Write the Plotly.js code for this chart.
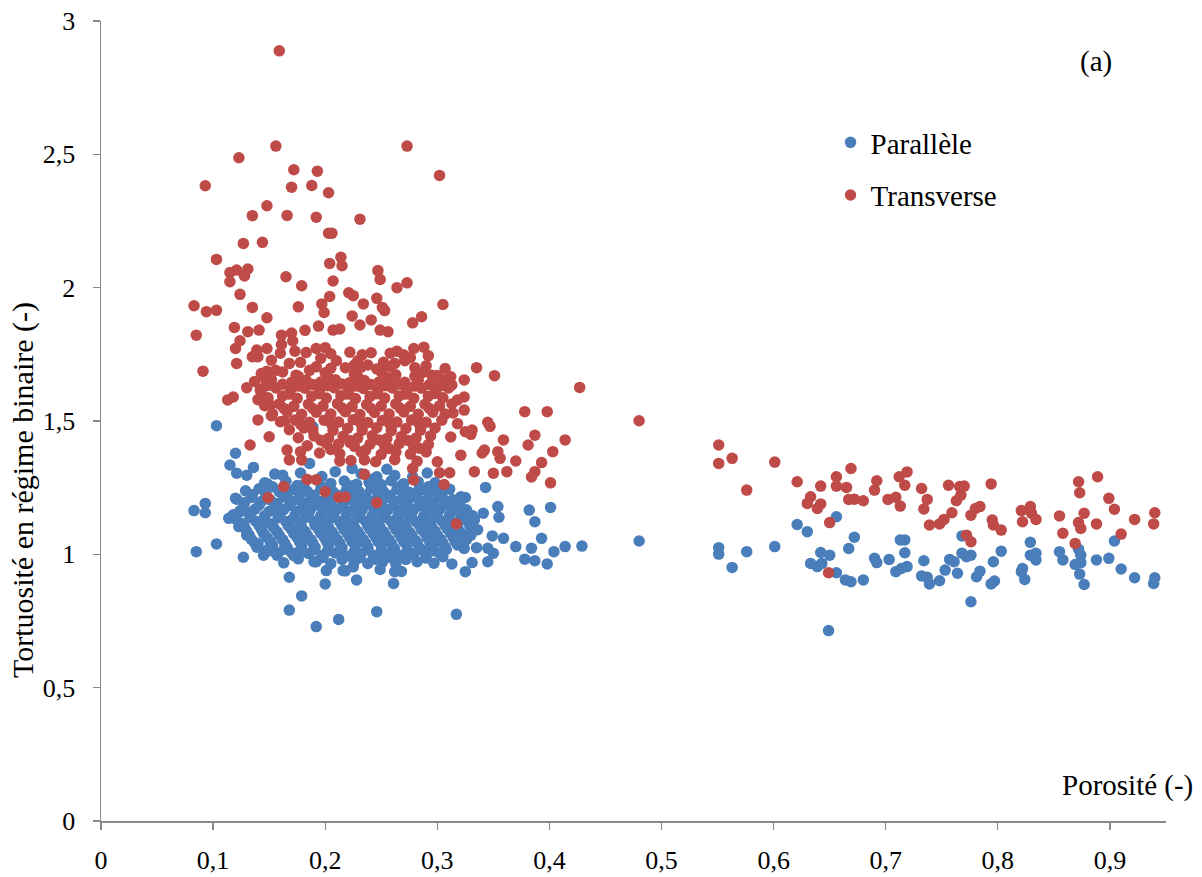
<!DOCTYPE html>
<html>
<head>
<meta charset="utf-8">
<script src="https://cdn.plot.ly/plotly-3.0.1.min.js"></script>
<style>html,body{margin:0;padding:0;background:#fff;}#chart{width:1202px;height:877px;}</style>
</head>
<body>
<div id="chart"></div>
<script>
// ---------- DATA (porosity, tortuosity) ----------
const seriesNames = ["Parallèle", "Transverse"];
const xTickVals = [0, 0.1, 0.2, 0.3, 0.4, 0.5, 0.6, 0.7, 0.8, 0.9];
const yTickVals = [0, 0.5, 1, 1.5, 2, 2.5, 3];

// Parallèle – scattered points around the main cloud
const parOutliers = [
[0.103,1.482],[0.120,1.379],[0.115,1.335],[0.121,1.304],[0.130,1.297],[0.136,1.326],[0.155,1.301],
[0.083,1.164],[0.093,1.191],[0.093,1.156],[0.085,1.010],[0.103,1.039],[0.120,1.210],[0.114,1.135],
[0.124,1.160],[0.123,1.104],[0.130,1.072],[0.127,0.989],[0.140,1.041],[0.148,1.016],[0.157,0.997],
[0.168,0.914],[0.179,0.844],[0.168,0.791],[0.192,0.729],[0.212,0.756],[0.200,0.889],[0.201,0.939],
[0.216,0.939],[0.228,0.904],[0.246,0.785],[0.170,1.006],[0.192,0.972],[0.243,0.991],[0.225,0.953],
[0.148,1.266],[0.186,1.341],[0.224,1.322],[0.244,1.285],[0.203,1.501],[0.189,1.478],
[0.343,1.251],[0.354,1.179],[0.355,1.139],[0.341,1.154],[0.333,1.129],[0.382,1.166],[0.387,1.122],
[0.384,1.023],[0.378,0.982],[0.387,0.976],[0.370,1.029],[0.349,1.069],[0.359,1.060],[0.345,1.023],
[0.350,1.004],[0.345,0.972],[0.335,1.025],[0.331,0.969],[0.325,0.935],[0.324,1.022],[0.330,1.072],
[0.321,1.216],[0.320,1.179],[0.313,0.964],[0.305,0.991],[0.317,0.775],[0.261,0.891],[0.262,0.935],
[0.272,0.985],[0.287,1.016],[0.305,1.256],[0.284,1.247],[0.255,1.319],[0.246,1.291],[0.278,1.291]
];
// Parallèle – dense cloud (porosity 0.12–0.34)
const parCloud = [
[0.162,1.297],[0.178,1.305],[0.197,1.292],[0.209,1.310],[0.232,1.302],[0.262,1.296],[0.291,1.305],
[0.146,1.268],[0.165,1.274],[0.181,1.262],[0.193,1.278],[0.205,1.266],[0.217,1.275],[0.228,1.263],[0.239,1.271],[0.250,1.262],[0.259,1.276],[0.270,1.265],[0.283,1.272],[0.298,1.268],
[0.153,1.253],[0.175,1.258],[0.199,1.251],[0.222,1.257],[0.245,1.252],[0.268,1.258],[0.292,1.253],
[0.129,1.238],[0.141,1.246],[0.159,1.235],[0.172,1.243],[0.184,1.236],[0.196,1.245],[0.207,1.234],[0.219,1.242],[0.230,1.236],[0.241,1.247],[0.252,1.235],[0.264,1.244],[0.275,1.233],[0.287,1.241],[0.298,1.236],[0.311,1.244],
[0.135,1.223],[0.147,1.228],[0.166,1.221],[0.178,1.227],[0.190,1.222],[0.202,1.229],[0.213,1.221],[0.225,1.227],[0.236,1.222],[0.247,1.228],[0.258,1.221],[0.270,1.227],[0.281,1.223],[0.293,1.229],[0.304,1.222],
[0.121,1.207],[0.134,1.213],[0.151,1.204],[0.163,1.215],[0.176,1.206],[0.188,1.212],[0.199,1.203],[0.210,1.214],[0.222,1.205],[0.233,1.212],[0.245,1.204],[0.256,1.213],[0.268,1.206],[0.279,1.215],[0.291,1.203],[0.302,1.211],[0.314,1.205],[0.325,1.213],
[0.128,1.193],[0.143,1.198],[0.157,1.191],[0.170,1.197],[0.182,1.192],[0.194,1.199],[0.205,1.191],[0.216,1.197],[0.228,1.192],[0.239,1.198],[0.250,1.191],[0.262,1.197],[0.273,1.193],[0.285,1.199],[0.296,1.192],[0.309,1.198],[0.320,1.193],
[0.127,1.176],[0.141,1.184],[0.155,1.175],[0.168,1.183],[0.180,1.177],[0.192,1.185],[0.203,1.174],[0.215,1.182],[0.227,1.176],[0.238,1.186],[0.249,1.175],[0.261,1.183],[0.272,1.174],[0.284,1.182],[0.295,1.177],[0.307,1.185],[0.318,1.176],
[0.124,1.163],[0.137,1.168],[0.150,1.161],[0.163,1.167],[0.175,1.162],[0.187,1.169],[0.198,1.161],[0.210,1.167],[0.221,1.162],[0.233,1.168],[0.244,1.161],[0.256,1.167],[0.267,1.163],[0.279,1.169],[0.290,1.162],[0.302,1.168],[0.313,1.163],[0.326,1.167],
[0.118,1.148],[0.132,1.153],[0.146,1.145],[0.160,1.154],[0.173,1.146],[0.185,1.152],[0.196,1.144],[0.208,1.155],[0.219,1.147],[0.231,1.153],[0.242,1.145],[0.254,1.156],[0.265,1.146],[0.277,1.152],[0.288,1.144],[0.300,1.154],[0.311,1.147],[0.322,1.153],[0.331,1.146],
[0.120,1.133],[0.133,1.138],[0.145,1.131],[0.158,1.137],[0.171,1.132],[0.183,1.139],[0.195,1.131],[0.206,1.137],[0.218,1.132],[0.229,1.138],[0.241,1.131],[0.252,1.137],[0.264,1.133],[0.275,1.139],[0.287,1.132],[0.298,1.138],[0.310,1.133],[0.321,1.137],[0.333,1.132],
[0.125,1.117],[0.138,1.124],[0.151,1.115],[0.165,1.123],[0.178,1.116],[0.190,1.125],[0.201,1.114],[0.213,1.122],[0.224,1.116],[0.236,1.124],[0.247,1.115],[0.259,1.123],[0.270,1.114],[0.281,1.122],[0.293,1.117],[0.304,1.125],[0.316,1.115],[0.327,1.123],
[0.128,1.103],[0.141,1.108],[0.154,1.101],[0.167,1.107],[0.179,1.102],[0.191,1.109],[0.203,1.101],[0.215,1.107],[0.226,1.102],[0.238,1.108],[0.249,1.101],[0.261,1.107],[0.272,1.103],[0.284,1.109],[0.295,1.102],[0.307,1.108],[0.318,1.103],[0.329,1.107],
[0.130,1.087],[0.143,1.094],[0.157,1.085],[0.170,1.093],[0.182,1.086],[0.194,1.095],[0.206,1.084],[0.217,1.092],[0.229,1.086],[0.240,1.094],[0.252,1.085],[0.263,1.093],[0.275,1.084],[0.286,1.092],[0.298,1.087],[0.309,1.095],[0.320,1.085],[0.336,1.092],
[0.132,1.073],[0.145,1.078],[0.159,1.071],[0.172,1.077],[0.184,1.072],[0.196,1.079],[0.208,1.071],[0.220,1.077],[0.231,1.072],[0.243,1.078],[0.254,1.071],[0.266,1.077],[0.277,1.073],[0.289,1.079],[0.300,1.072],[0.312,1.078],[0.323,1.073],
[0.134,1.057],[0.148,1.064],[0.162,1.055],[0.175,1.063],[0.187,1.056],[0.199,1.065],[0.211,1.054],[0.222,1.062],[0.234,1.056],[0.245,1.064],[0.257,1.055],[0.268,1.063],[0.280,1.054],[0.291,1.062],[0.303,1.057],[0.314,1.065],[0.326,1.055],
[0.137,1.043],[0.151,1.048],[0.164,1.041],[0.177,1.047],[0.189,1.042],[0.201,1.049],[0.213,1.041],[0.224,1.047],[0.236,1.042],[0.247,1.048],[0.259,1.041],[0.270,1.047],[0.282,1.043],[0.293,1.049],[0.305,1.042],[0.316,1.048],
[0.139,1.027],[0.153,1.034],[0.166,1.025],[0.179,1.033],[0.191,1.026],[0.203,1.035],[0.215,1.024],[0.227,1.032],[0.238,1.026],[0.250,1.034],[0.261,1.025],[0.273,1.033],[0.284,1.024],[0.296,1.032],[0.307,1.027],[0.318,1.035],
[0.150,1.013],[0.163,1.018],[0.177,1.011],[0.190,1.017],[0.202,1.012],[0.214,1.019],[0.226,1.011],[0.238,1.017],[0.250,1.012],[0.262,1.018],[0.273,1.011],[0.285,1.017],[0.296,1.013],[0.308,1.018],
[0.145,0.997],[0.158,1.004],[0.172,0.995],[0.185,1.003],[0.197,0.996],[0.209,1.005],[0.221,0.994],[0.232,1.002],[0.244,0.996],[0.256,1.004],[0.267,0.995],[0.279,1.003],[0.290,0.997],[0.302,1.004],
[0.176,0.983],[0.198,0.988],[0.215,0.981],[0.231,0.987],[0.245,0.982],[0.258,0.988],[0.272,0.981],[0.290,0.986],
[0.163,0.968],[0.190,0.972],[0.205,0.965],[0.226,0.973],[0.238,0.966],[0.251,0.971],[0.263,0.964],[0.282,0.972],[0.297,0.967],
[0.218,0.938],[0.249,0.943],[0.268,0.936]
];
// Parallèle – porosity above 0.39
const parHigh = [
[0.401,1.176],[0.393,1.060],[0.398,0.964],[0.404,1.010],[0.414,1.029],[0.429,1.031],[0.480,1.050],
[0.551,1.025],[0.551,1.001],[0.563,0.951],[0.576,1.010],[0.601,1.029],[0.621,1.112],[0.630,1.085],
[0.633,0.966],[0.639,0.954],[0.642,1.007],[0.643,0.966],[0.650,0.997],[0.656,1.141],[0.656,0.931],
[0.649,0.714],[0.664,0.904],[0.669,0.897],[0.667,1.022],[0.672,1.064],[0.680,0.904],[0.690,0.985],
[0.692,0.969],[0.703,0.981],[0.709,0.935],[0.714,0.947],[0.719,0.954],[0.713,1.054],[0.717,1.054],
[0.717,1.006],[0.734,0.976],[0.732,0.919],[0.737,0.914],[0.739,0.889],[0.748,0.901],[0.753,0.941],
[0.757,0.981],[0.761,0.972],[0.764,0.929],[0.768,1.004],[0.772,0.991],[0.776,0.997],[0.768,1.069],
[0.776,0.822],[0.781,0.916],[0.784,0.937],[0.794,0.889],[0.797,0.900],[0.796,0.972],[0.803,1.012],
[0.821,0.935],[0.824,0.906],[0.822,0.947],[0.829,1.045],[0.829,0.997],[0.834,1.004],[0.834,0.979],
[0.855,1.010],[0.858,0.979],[0.872,1.019],[0.874,0.997],[0.869,0.962],[0.874,0.969],[0.873,0.926],
[0.877,0.887],[0.888,0.979],[0.899,0.985],[0.904,1.050],[0.910,0.945],[0.922,0.912],[0.940,0.912],
[0.939,0.891]
];

// Transverse – scattered points above the main cloud
const trOutliers = [
[0.159,2.888],[0.156,2.531],[0.273,2.531],[0.123,2.487],[0.302,2.421],[0.172,2.442],[0.193,2.437],
[0.093,2.382],[0.170,2.377],[0.188,2.383],[0.203,2.356],[0.148,2.307],[0.135,2.270],[0.166,2.271],
[0.192,2.264],[0.231,2.257],[0.203,2.204],[0.206,2.204],[0.127,2.166],[0.144,2.170],[0.103,2.106],
[0.214,2.114],[0.204,2.091],[0.215,2.082],[0.115,2.057],[0.121,2.066],[0.131,2.070],[0.128,2.044],
[0.115,2.022],[0.165,2.041],[0.207,2.025],[0.247,2.064],[0.249,2.031],[0.179,2.007],[0.264,2.000],
[0.273,2.018],[0.124,1.975],[0.204,1.967],[0.221,1.981],[0.225,1.970],[0.246,1.960],[0.083,1.932],
[0.094,1.910],[0.103,1.915],[0.135,1.926],[0.176,1.928],[0.197,1.939],[0.199,1.907],[0.234,1.939],
[0.251,1.926],[0.253,1.914],[0.224,1.894],[0.241,1.879],[0.305,1.937],[0.148,1.887],[0.085,1.822],
[0.119,1.851],[0.131,1.835],[0.141,1.841],[0.182,1.840],[0.194,1.856],[0.207,1.841],[0.213,1.845],
[0.231,1.860],[0.249,1.841],[0.256,1.835],[0.278,1.868],[0.286,1.891],[0.124,1.801],[0.120,1.772],
[0.148,1.772],[0.161,1.822],[0.170,1.830],[0.161,1.787],[0.171,1.800],[0.160,1.754],[0.173,1.762],
[0.183,1.757],[0.192,1.772],[0.200,1.775],[0.139,1.766],[0.135,1.741],[0.140,1.741],[0.121,1.716],
[0.091,1.687],[0.168,1.716],[0.178,1.720],[0.186,1.690],[0.210,1.726],[0.218,1.700],[0.226,1.710],
[0.238,1.710],[0.241,1.756],[0.252,1.720],[0.264,1.762],[0.279,1.772],[0.288,1.777],[0.271,1.726],
[0.262,1.716],[0.280,1.700],[0.295,1.672],[0.307,1.697],[0.312,1.666],[0.324,1.654],[0.335,1.700],
[0.351,1.670],[0.313,1.635],[0.148,1.687],[0.156,1.690],[0.130,1.625],[0.147,1.635],[0.118,1.590],
[0.205,1.752],[0.222,1.758],[0.233,1.748],[0.258,1.754],[0.270,1.748],[0.292,1.745],
[0.192,1.703],[0.205,1.698],[0.232,1.702],[0.246,1.695],[0.258,1.704],[0.290,1.707],
[0.113,1.579],[0.140,1.504],[0.133,1.410],[0.150,1.441],[0.140,1.580],[0.151,1.560],[0.152,1.520],
[0.164,1.500],[0.168,1.354],[0.179,1.354],[0.163,1.254],[0.149,1.212],[0.184,1.281],[0.192,1.280],
[0.200,1.235],[0.212,1.214],[0.218,1.215],[0.235,1.354],[0.235,1.300],[0.246,1.194],[0.166,1.391],
[0.178,1.385],[0.195,1.380],[0.213,1.350],[0.189,1.466],[0.201,1.416],[0.222,1.420],
[0.378,1.535],[0.398,1.535],[0.414,1.429],[0.427,1.626],[0.387,1.447],[0.381,1.410],[0.403,1.385],
[0.393,1.344],[0.387,1.310],[0.384,1.290],[0.401,1.268],[0.370,1.350],[0.362,1.310],[0.354,1.385],
[0.356,1.360],[0.350,1.304],[0.342,1.391],[0.340,1.380],[0.333,1.310],[0.359,1.429],[0.345,1.495],
[0.347,1.480],[0.331,1.466],[0.330,1.450],[0.321,1.372],[0.324,1.541],[0.324,1.590],[0.318,1.579],
[0.314,1.530],[0.318,1.490],[0.325,1.460],[0.312,1.440],[0.300,1.347],[0.311,1.306],[0.302,1.306],
[0.306,1.262],[0.317,1.114],[0.279,1.279],[0.278,1.322]
];
// Transverse – dense cloud (porosity 0.13–0.32)
const trCloud = [
[0.152,1.728],[0.196,1.735],[0.229,1.726],[0.276,1.738],
[0.143,1.678],[0.162,1.684],[0.174,1.672],[0.200,1.681],[0.226,1.676],[0.250,1.684],[0.263,1.673],[0.287,1.682],[0.300,1.671],
[0.146,1.663],[0.176,1.668],[0.203,1.661],[0.229,1.667],[0.256,1.662],[0.280,1.668],
[0.137,1.648],[0.152,1.655],[0.170,1.645],[0.183,1.653],[0.196,1.646],[0.209,1.655],[0.222,1.644],[0.235,1.652],[0.248,1.646],[0.258,1.655],[0.271,1.645],[0.283,1.653],[0.296,1.647],[0.306,1.655],
[0.149,1.633],[0.162,1.638],[0.176,1.631],[0.189,1.637],[0.202,1.632],[0.215,1.639],[0.228,1.631],[0.241,1.637],[0.254,1.632],[0.267,1.638],[0.280,1.631],[0.293,1.637],[0.305,1.633],
[0.142,1.617],[0.156,1.624],[0.169,1.615],[0.182,1.623],[0.195,1.616],[0.208,1.625],[0.221,1.614],[0.234,1.622],[0.247,1.616],[0.260,1.624],[0.273,1.615],[0.286,1.623],[0.299,1.617],[0.310,1.624],
[0.143,1.603],[0.168,1.601],[0.194,1.602],[0.220,1.601],[0.246,1.602],[0.272,1.601],[0.298,1.603],
[0.149,1.587],[0.162,1.594],[0.175,1.585],[0.188,1.593],[0.201,1.586],[0.214,1.595],[0.227,1.584],[0.240,1.592],[0.253,1.586],[0.266,1.594],[0.279,1.585],[0.292,1.593],[0.305,1.587],
[0.146,1.557],[0.159,1.564],[0.172,1.555],[0.185,1.563],[0.198,1.556],[0.211,1.565],[0.224,1.554],[0.237,1.562],[0.250,1.556],[0.263,1.564],[0.276,1.555],[0.289,1.563],[0.302,1.557],[0.313,1.564],
[0.163,1.548],[0.189,1.547],[0.215,1.549],[0.241,1.547],[0.267,1.548],[0.293,1.547],
[0.153,1.527],[0.166,1.534],[0.179,1.525],[0.192,1.533],[0.205,1.526],[0.218,1.535],[0.231,1.524],[0.244,1.532],[0.257,1.526],[0.270,1.534],[0.283,1.525],[0.296,1.533],[0.307,1.526],
[0.160,1.497],[0.173,1.504],[0.186,1.495],[0.199,1.503],[0.212,1.496],[0.225,1.505],[0.238,1.494],[0.251,1.502],[0.264,1.496],[0.277,1.504],[0.290,1.495],[0.304,1.503],
[0.178,1.488],[0.206,1.487],[0.232,1.489],[0.258,1.487],[0.284,1.488],
[0.168,1.467],[0.181,1.474],[0.207,1.465],[0.220,1.473],[0.233,1.466],[0.246,1.475],[0.259,1.464],[0.272,1.472],[0.285,1.466],[0.298,1.474],
[0.176,1.437],[0.190,1.444],[0.203,1.435],[0.216,1.443],[0.229,1.436],[0.242,1.445],[0.255,1.434],[0.268,1.442],[0.281,1.436],[0.294,1.444],
[0.196,1.428],[0.222,1.427],[0.248,1.429],[0.274,1.427],
[0.184,1.407],[0.212,1.414],[0.226,1.405],[0.240,1.413],[0.253,1.406],[0.266,1.415],[0.279,1.404],[0.292,1.412],
[0.205,1.393],[0.236,1.391],[0.257,1.397],[0.284,1.398],
[0.213,1.377],[0.232,1.384],[0.250,1.375],[0.263,1.383],[0.276,1.376],[0.290,1.384],
[0.223,1.352],[0.245,1.347],[0.262,1.355],[0.282,1.349]
];
// Transverse – porosity above 0.47
const trHigh = [
[0.480,1.501],[0.551,1.410],[0.551,1.341],[0.563,1.360],[0.601,1.346],[0.576,1.241],[0.621,1.272],
[0.642,1.256],[0.656,1.291],[0.656,1.256],[0.665,1.251],[0.669,1.322],[0.633,1.216],[0.630,1.191],
[0.639,1.172],[0.642,1.189],[0.667,1.206],[0.672,1.207],[0.680,1.201],[0.650,1.119],[0.649,0.931],
[0.690,1.241],[0.692,1.276],[0.702,1.206],[0.709,1.214],[0.713,1.181],[0.712,1.291],[0.719,1.309],
[0.717,1.259],[0.732,1.247],[0.737,1.206],[0.734,1.170],[0.739,1.110],[0.748,1.114],[0.752,1.131],
[0.759,1.156],[0.756,1.259],[0.766,1.254],[0.770,1.256],[0.763,1.201],[0.767,1.222],[0.776,1.147],
[0.780,1.172],[0.784,1.179],[0.772,1.072],[0.776,1.047],[0.794,1.264],[0.795,1.129],[0.796,1.110],
[0.803,1.091],[0.821,1.164],[0.822,1.122],[0.829,1.179],[0.830,1.154],[0.834,1.131],[0.855,1.144],
[0.858,1.079],[0.872,1.272],[0.873,1.231],[0.872,1.119],[0.874,1.097],[0.869,1.041],[0.877,1.154],
[0.889,1.291],[0.888,1.114],[0.899,1.210],[0.904,1.169],[0.910,1.076],[0.922,1.131],[0.940,1.156],
[0.939,1.114]
];

const parPts = parOutliers.concat(parCloud, parHigh);
const trPts = trOutliers.concat(trCloud, trHigh);

// ---------- STYLE ----------
const FONT = "Liberation Serif, Times New Roman, serif";
const axisColor = "#898989";

const traces = [
  {
    type: "scatter", mode: "markers", name: seriesNames[0], legendgroup: "a",
    x: parPts.map(p => p[0]), y: parPts.map(p => p[1]),
    marker: {color: "#4A7EBB", size: 11.5, line: {width: 0}}
  },
  {
    type: "scatter", mode: "markers", name: seriesNames[1], legendgroup: "b",
    x: trPts.map(p => p[0]), y: trPts.map(p => p[1]),
    marker: {color: "#BE4B48", size: 11.5, line: {width: 0}}
  }
];

const baseAxis = {
  showgrid: false, zeroline: false, showline: true, linecolor: axisColor, linewidth: 1.5,
  ticks: "outside", ticklen: 7, tickwidth: 1.3, tickcolor: axisColor,
  tickfont: {family: FONT, size: 26, color: "#000"}, fixedrange: true
};

const layout = {
  width: 1202, height: 877,
  margin: {l: 101, r: 36, t: 21, b: 56, pad: 0},
  paper_bgcolor: "#fff", plot_bgcolor: "#fff",
  separators: ", ",
  showlegend: true,
  font: {family: FONT, color: "#000"},
  xaxis: Object.assign({}, baseAxis, {range: [0, 0.95], tickvals: xTickVals, ticklabelstandoff: 8}),
  yaxis: Object.assign({}, baseAxis, {range: [0, 3], tickvals: yTickVals, ticklabelstandoff: 12}),
  xaxis2: {overlaying: "x", anchor: "y", range: [0, 0.95], tickvals: xTickVals, ticks: "inside", ticklen: 7,
           tickwidth: 1.3, tickcolor: axisColor, showticklabels: false, showgrid: false, zeroline: false, showline: false, fixedrange: true},
  yaxis2: {overlaying: "y", anchor: "x", range: [0, 3], tickvals: yTickVals, ticks: "inside", ticklen: 7,
           tickwidth: 1.3, tickcolor: axisColor, showticklabels: false, showgrid: false, zeroline: false, showline: false, fixedrange: true},
  legend: {
    x: 0.685, y: 0.88, xanchor: "left", yanchor: "top",
    font: {family: FONT, size: 29, color: "#000"},
    bgcolor: "rgba(0,0,0,0)", borderwidth: 0,
    traceorder: "grouped", tracegroupgap: 12
  },
  annotations: [
    {text: "(a)", xref: "paper", yref: "paper", x: 0.934, y: 0.949, xanchor: "center", yanchor: "middle",
     showarrow: false, font: {family: FONT, size: 29, color: "#000"}},
    {text: "Porosité (-)", xref: "paper", yref: "paper", x: 1.027, y: 0.045, xanchor: "right", yanchor: "middle",
     showarrow: false, font: {family: FONT, size: 29, color: "#000"}},
    {text: "Tortuosité en régime binaire (-)", xref: "paper", yref: "paper", x: -0.073, y: 0.414,
     xanchor: "center", yanchor: "middle", textangle: -90,
     showarrow: false, font: {family: FONT, size: 30, color: "#000"}}
  ]
};

Plotly.newPlot("chart", traces, layout, {displayModeBar: false, staticPlot: true});
</script>
</body>
</html>
